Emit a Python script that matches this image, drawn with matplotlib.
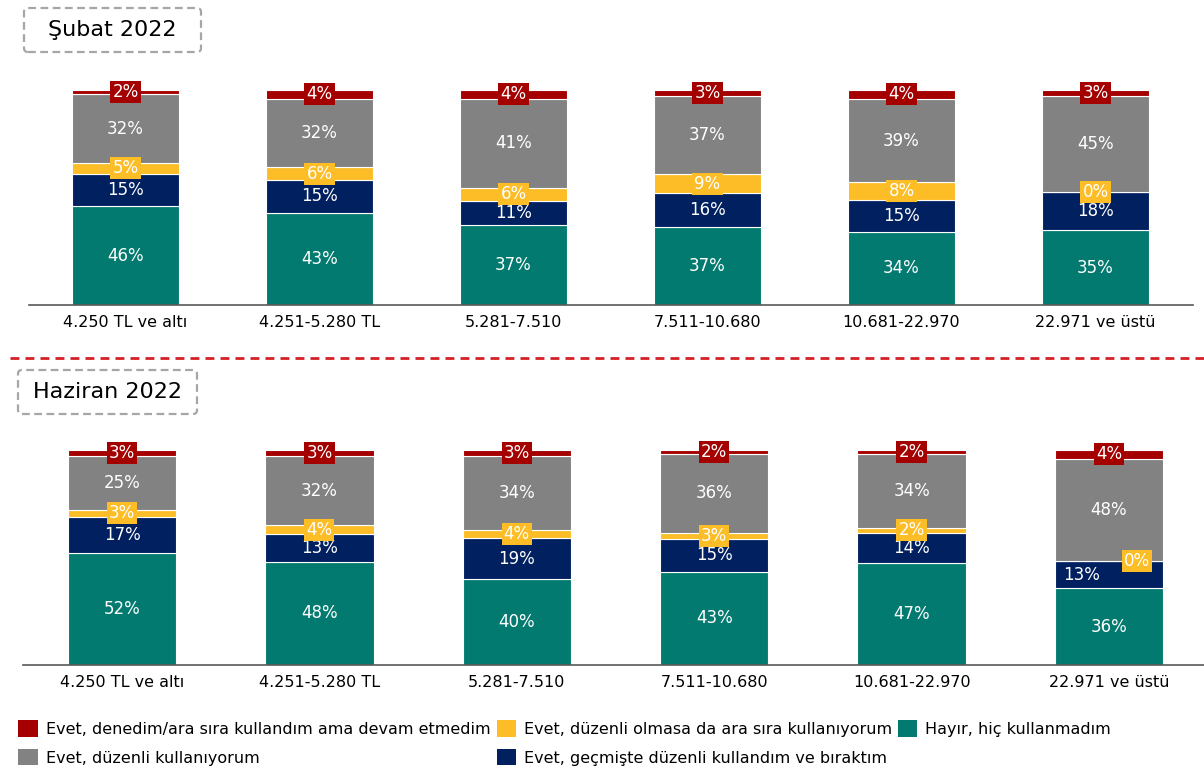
import matplotlib.pyplot as plt
from matplotlib.patches import FancyBboxPatch, Patch
from matplotlib.lines import Line2D
import numpy as np

plt.rcParams['font.family'] = ['DejaVu Sans']

W, H = 1204, 769

categories = ['4.250 TL ve altı', '4.251-5.280 TL', '5.281-7.510',
              '7.511-10.680', '10.681-22.970', '22.971 ve üstü']

# stack order, bottom to top
series_names = ['Hayır, hiç kullanmadım',
                'Evet, geçmişte düzenli kullandım ve bıraktım',
                'Evet, düzenli olmasa da ara sıra kullanıyorum',
                'Evet, düzenli kullanıyorum',
                'Evet, denedim/ara sıra kullandım ama devam etmedim']
colors = ['#027A6F', '#00205F', '#FCBD26', '#828282', '#A50000']
boxed = [False, False, True, False, True]

# Şubat 2022
subat_hayir = [46, 43, 37, 37, 34, 35]
subat_birakti = [15, 15, 11, 16, 15, 18]
subat_arasira = [5, 6, 6, 9, 8, 0]
subat_duzenli = [32, 32, 41, 37, 39, 45]
subat_denedi = [2, 4, 4, 3, 4, 3]

# Haziran 2022
haziran_hayir = [52, 48, 40, 43, 47, 36]
haziran_birakti = [17, 13, 19, 15, 14, 13]
haziran_arasira = [3, 4, 4, 3, 2, 0]
haziran_duzenli = [25, 32, 34, 36, 34, 48]
haziran_denedi = [3, 3, 3, 2, 2, 4]

subat = [subat_hayir, subat_birakti, subat_arasira, subat_duzenli, subat_denedi]
haziran = [haziran_hayir, haziran_birakti, haziran_arasira, haziran_duzenli, haziran_denedi]

fig = plt.figure(figsize=(W / 100, H / 100), dpi=100)


def px_axes(left, top, right, bottom):
    return fig.add_axes([left / W, 1 - bottom / H, (right - left) / W, (bottom - top) / H])


def draw_panel(ax, data, offsets=None):
    offsets = offsets or {}
    x = np.arange(len(categories))
    raw = np.array(data, dtype=float)
    # rounded shares do not always add to 100: bars are drawn as full stacks
    shares = raw / raw.sum(axis=0) * 100
    base = np.zeros(len(categories))
    for s in range(len(data)):
        vals = shares[s]
        ax.bar(x, vals, bottom=base, width=0.55, color=colors[s],
               edgecolor='white', linewidth=0.8)
        for i, v in enumerate(vals):
            dx = offsets.get((s, i), 0)
            kw = {}
            if boxed[s]:
                kw['bbox'] = dict(boxstyle='square,pad=0.12', fc=colors[s], ec='none')
            ax.text(i + dx, base[i] + v / 2, f'{int(raw[s, i])}%', ha='center', va='center',
                    color='white', fontsize=12, **kw)
        base += vals
    ax.set_xlim(-0.5, len(categories) - 0.5)
    ax.set_ylim(0, 105)
    ax.set_yticks([])
    ax.set_xticks(x)
    ax.set_xticklabels(categories, fontsize=11.5)
    ax.tick_params(axis='x', length=0, pad=7)
    for sp in ['top', 'right', 'left']:
        ax.spines[sp].set_visible(False)
    ax.spines['bottom'].set_color('#595959')
    ax.spines['bottom'].set_linewidth(1.2)


ax1 = px_axes(28.5, 305 - 215 * 1.05, 1192.5, 305)
draw_panel(ax1, subat)

ax2 = px_axes(23.3, 665 - 215 * 1.05, 1207.7, 665)
draw_panel(ax2, haziran, offsets={(1, 5): -0.14, (2, 5): 0.14})


def title_box(text, x0, y0, x1, y1):
    box = FancyBboxPatch((x0 / 100, (H - y1) / 100), (x1 - x0) / 100, (y1 - y0) / 100,
                         boxstyle='round,pad=0,rounding_size=0.04',
                         transform=fig.dpi_scale_trans, fc='none', ec='#A6A6A6',
                         lw=1.6, linestyle=(0, (3.5, 2)))
    fig.add_artist(box)
    fig.text((x0 + x1) / 2 / W, 1 - (y0 + y1) / 2 / H, text, ha='center', va='center',
             fontsize=16, color='black')


title_box('Şubat 2022', 24, 8, 201, 52)
title_box('Haziran 2022', 18, 370, 197, 414)

# red separator
fig.add_artist(Line2D([10 / W, 1], [1 - 358 / H, 1 - 358 / H], transform=fig.transFigure,
                      color='#D42027', lw=2, dashes=(3.2, 2.2)))

# legend
order = [4, 3, 2, 1, 0]
handles = [Patch(facecolor=colors[k], edgecolor='none') for k in order]
labels = [series_names[k] for k in order]
fig.legend(handles, labels, ncol=3, loc='upper left', bbox_to_anchor=(12 / W, 1 - 714 / H),
           frameon=False, fontsize=11.5, handlelength=1.2, handleheight=1.2,
           handletextpad=0.5, columnspacing=0.4, labelspacing=0.75, borderaxespad=0)

fig.savefig('out.png', dpi=100)
